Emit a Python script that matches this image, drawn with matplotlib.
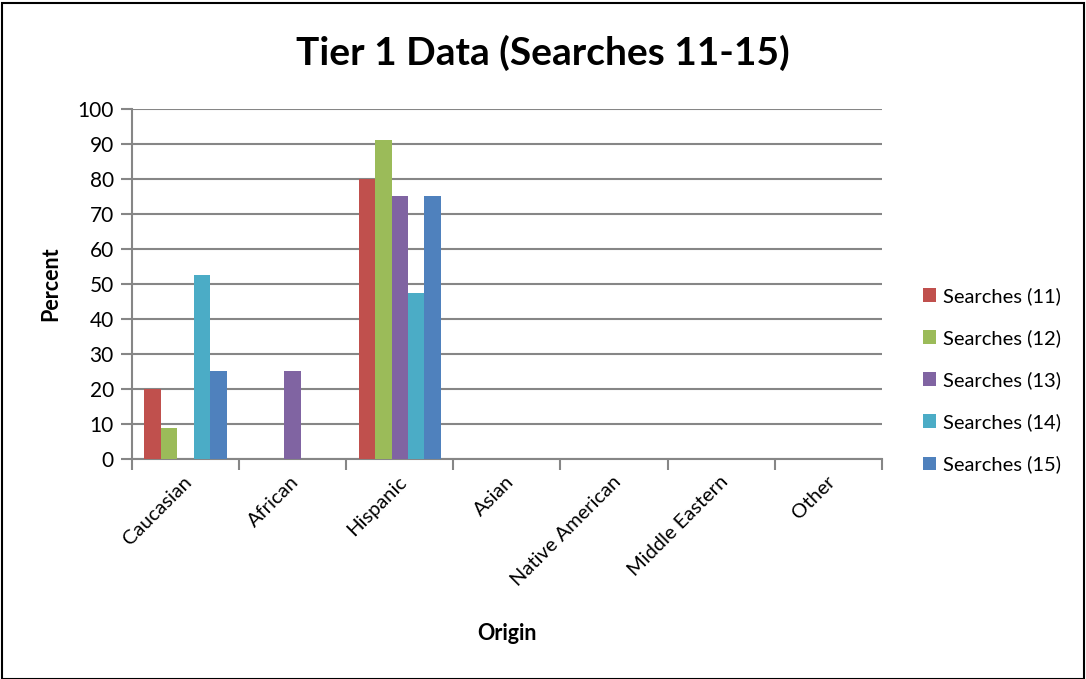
import numpy as np
import matplotlib.pyplot as plt
from matplotlib.patches import Rectangle

plt.rcParams['font.family'] = ['Lato', 'DejaVu Sans']

origins = ['Caucasian', 'African', 'Hispanic', 'Asian', 'Native American',
           'Middle Eastern', 'Other']
series_names = ['Searches (11)', 'Searches (12)', 'Searches (13)',
                'Searches (14)', 'Searches (15)']
searches_11 = [20, 0, 80, 0, 0, 0, 0]
searches_12 = [9, 0, 91, 0, 0, 0, 0]
searches_13 = [0, 25, 75, 0, 0, 0, 0]
searches_14 = [52.6, 0, 47.4, 0, 0, 0, 0]
searches_15 = [25, 0, 75, 0, 0, 0, 0]
colors = ['#C0504D', '#9BBB59', '#8064A2', '#4BACC6', '#4F81BD']

series = [searches_11, searches_12, searches_13, searches_14, searches_15]

fig = plt.figure(figsize=(10.86, 6.79), dpi=100)
ax = fig.add_axes([0.1215, 0.324, 0.6905, 0.5155])

x = np.arange(len(origins))
bw = 1 / 6.5
for i, (vals, name, c) in enumerate(zip(series, series_names, colors)):
    ax.bar(x + (i - 2) * bw, vals, width=bw, color=c, label=name, zorder=3)

ax.set_xlim(-0.5, len(origins) - 0.5)
ax.set_ylim(0, 100)
ax.set_yticks(range(0, 101, 10))
ax.yaxis.grid(True, color='#868686', linewidth=1.5, zorder=0)
for s in ['top', 'right']:
    ax.spines[s].set_visible(False)
for s in ['left', 'bottom']:
    ax.spines[s].set_color('#868686')
    ax.spines[s].set_linewidth(1.5)

ax.set_xticks(np.arange(len(origins) + 1) - 0.5, minor=False)
ax.set_xticklabels([])
ax.tick_params(axis='x', length=8, width=1.5, color='#868686')
ax.tick_params(axis='y', length=8, width=1.5, color='#868686', labelsize=15, pad=5)
for xi, lab in zip(x, origins):
    ax.text(xi - 0.02, -4.0, lab, rotation=45, ha='right', va='top',
            rotation_mode='anchor', fontsize=14.5, transform=ax.transData)

ax.set_ylabel('Percent', fontsize=15.5, fontweight='bold', labelpad=12)
fig.text(0.467, 0.057, 'Origin', fontsize=15.5, fontweight='bold', ha='center')
fig.text(0.5, 0.904, 'Tier 1 Data (Searches 11-15)', fontsize=28,
         fontweight='bold', ha='center')

fig.legend(loc='center left', bbox_to_anchor=(0.833, 0.44), frameon=False,
           fontsize=14.5, handlelength=0.65, handleheight=0.65, handletextpad=0.35,
           labelspacing=1.2)

fig.patches.append(Rectangle((0.002, 0.0), 0.996, 0.996, transform=fig.transFigure,
                             fill=False, edgecolor='black', linewidth=1.5))

fig.savefig('out.png', dpi=100)
